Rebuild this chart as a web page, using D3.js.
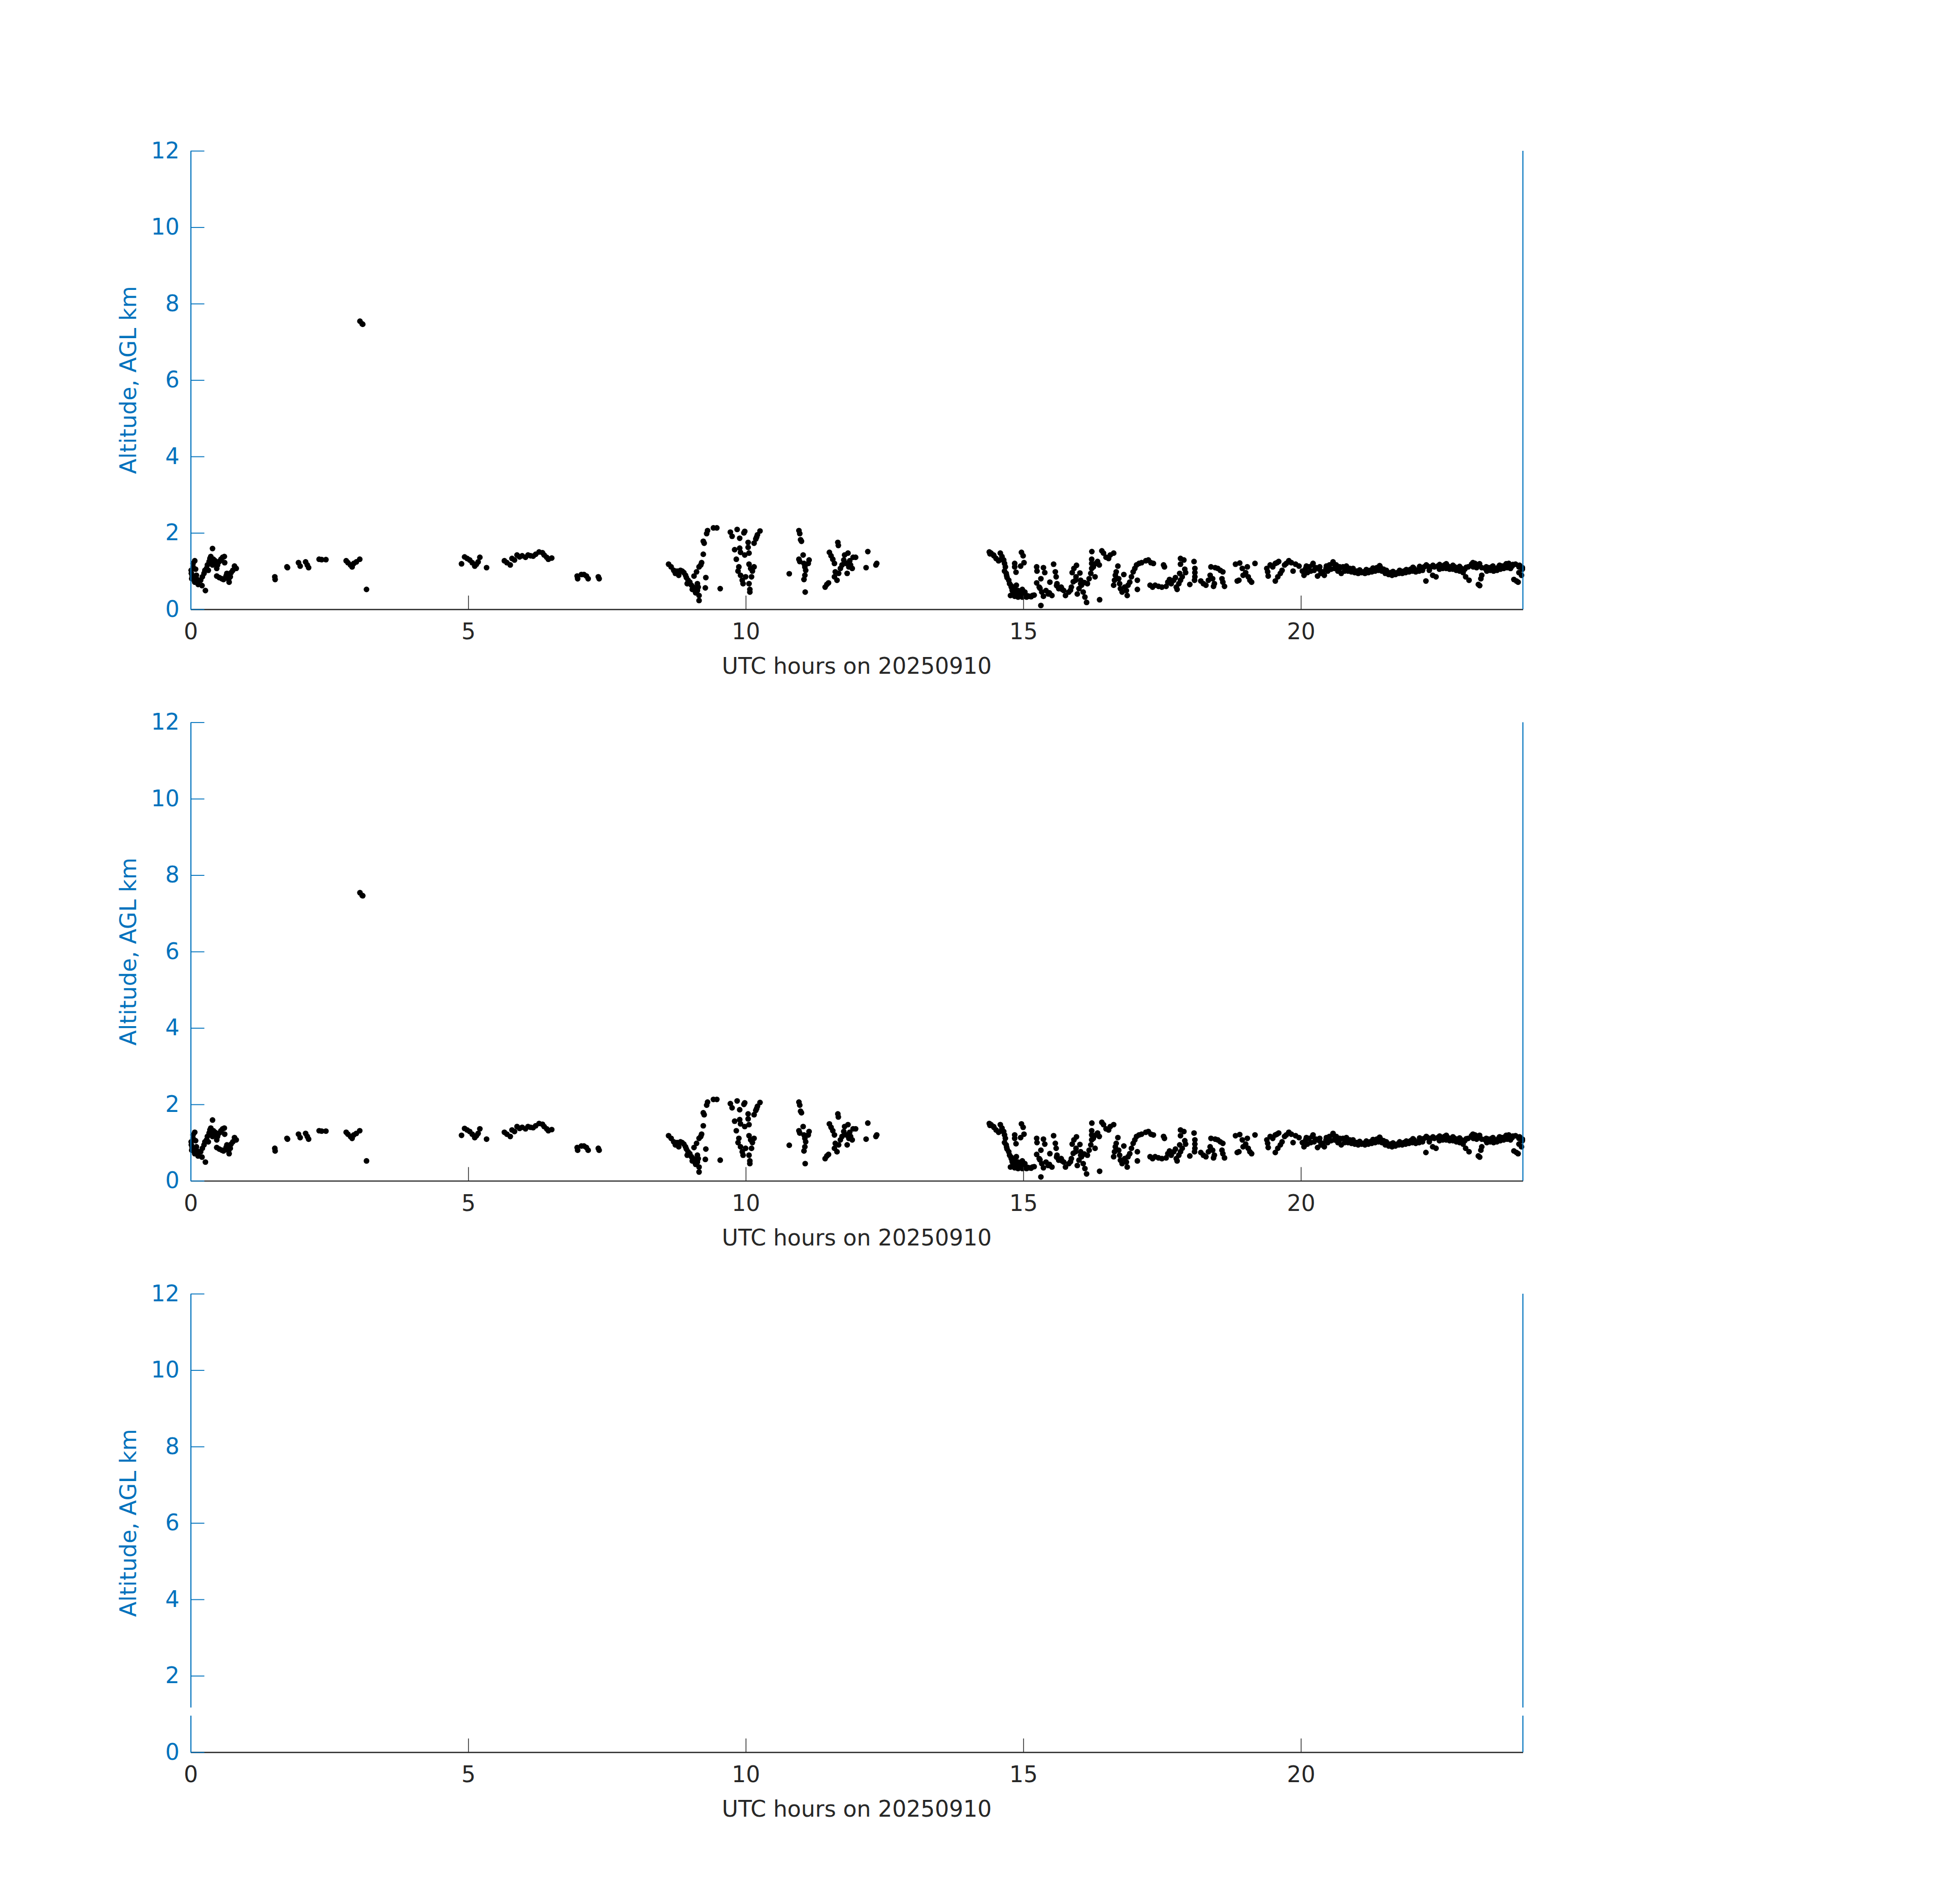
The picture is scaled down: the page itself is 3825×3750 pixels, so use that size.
<!DOCTYPE html>
<html><head><meta charset="utf-8">
<script src="https://cdn.jsdelivr.net/npm/d3@7"></script>
<style>body{margin:0;background:#fff}</style></head>
<body>
<svg id="chart" width="3825" height="3750"></svg>
<script>
const xTicks = [0, 5, 10, 15, 20];
const yTicks = [0, 2, 4, 6, 8, 10, 12];
const xLabelText = "UTC hours on 20250910";
const yLabelText = "Altitude, AGL km";

const utcHours = [
 0.043,0.074,0.043,0.089,0.028,0.058,0.104,0.119,0.074,0.135,0.205,0.266,0.180,0.211,0.241,0.257,0.287,0.318,0.302,0.333,
 0.348,0.363,0.394,0.379,0.409,0.440,0.424,0.394,0.470,0.485,0.516,0.546,0.577,0.607,0.613,0.470,0.516,0.562,0.592,0.653,
 0.638,0.683,0.693,0.714,0.729,0.760,0.790,0.821,0.013,0.010,0.020,
 1.516,1.522,1.735,1.745,1.943,1.973,2.071,2.101,2.125,2.315,2.360,2.437,2.802,2.833,2.879,2.909,2.939,2.985,3.046,3.168,
 3.05,3.09,3.10,
 4.880,4.935,4.981,5.027,5.072,5.118,5.149,5.179,5.210,5.331,5.652,5.697,5.758,5.789,5.834,5.880,5.926,5.972,6.033,6.078,
 6.124,6.170,6.216,6.277,6.338,6.368,6.414,6.444,6.505,6.963,6.972,7.039,7.085,7.130,7.161,7.344,7.359,
 8.610,8.656,8.702,8.732,8.763,8.793,8.824,8.854,8.885,8.915,8.931,8.961,8.946,8.992,9.022,9.037,9.053,9.083,9.098,9.129,
 9.159,9.159,9.144,9.129,9.068,9.114,9.159,9.190,9.205,9.235,9.251,9.235,9.296,9.312,9.418,9.479,9.281,9.272,9.540,
 9.723,9.754,9.845,9.891,9.967,9.982,9.800,9.891,9.906,9.830,9.876,9.861,9.906,9.937,9.952,9.982,10.043,10.043,10.059,10.059,
 10.089,10.120,10.150,10.104,10.059,10.074,10.074,9.998,10.150,10.181,10.211,10.257,10.196,
 10.784,10.958,10.973,10.988,11.004,11.034,10.958,10.973,11.049,11.065,11.080,11.141,11.126,11.065,11.049,11.071,
 11.430,11.461,11.491,11.507,11.537,11.568,11.598,11.613,11.598,11.644,11.659,11.668,11.674,11.705,11.735,11.766,11.781,11.812,11.827,11.842,
 11.873,11.888,11.918,11.934,11.857,11.979,12.199,12.168,12.345,12.360,
 14.388,14.418,14.464,14.510,14.555,14.586,14.616,14.647,14.662,14.677,14.662,14.692,14.708,14.738,14.753,14.784,14.769,14.814,14.845,14.875,
 14.906,14.952,14.982,15.028,15.058,15.104,15.165,15.196,14.982,14.906,14.845,14.967,14.997,15.013,14.952,14.845,14.845,14.869,15.241,15.247,
 15.363,15.387,15.317,15.241,15.287,15.333,15.363,15.409,15.470,15.516,15.479,15.317,15.546,15.577,15.592,15.607,15.638,15.683,15.729,15.760,
 15.820,15.866,15.881,15.912,15.958,15.942,15.973,16.003,16.034,
 14.40,14.47,14.60,14.70,14.78,14.80,14.88,14.93,15.00,15.08,15.14,15.30,15.45,15.60,15.70,15.85,15.90,15.95,16.02,16.10,
 16.033,16.049,16.079,16.110,16.140,16.155,16.186,16.216,16.232,16.232,16.232,16.235,16.262,16.293,16.308,16.338,16.369,16.415,16.445,16.491,
 16.537,16.567,16.628,16.375,
 16.628,16.643,16.658,16.674,16.704,16.719,16.735,16.750,16.780,16.811,16.826,16.857,16.872,16.887,16.918,16.948,16.979,17.009,17.040,17.055,
 17.055,17.085,17.131,
 17.207,17.253,17.299,17.344,17.284,17.329,17.375,17.436,17.497,17.527,17.543,
 17.573,17.604,17.634,17.665,17.710,17.741,17.756,17.771,17.802,17.817,17.832,17.863,17.832,17.832,17.893,17.909,17.924,18.000,18.076,18.091,
 18.091,18.091,18.085,
 18.198,18.244,18.290,18.335,18.366,18.381,18.411,18.442,18.427,18.457,18.503,18.549,18.595,18.579,18.595,18.625,
 18.823,18.899,18.854,18.884,18.945,18.960,19.006,19.036,19.052,19.082,19.113,19.174,
 19.387,19.402,19.412,19.448,19.494,19.540,19.570,19.601,19.540,19.585,19.631,19.662,19.707,19.738,19.783,19.829,19.860,19.905,19.967,
 20.027,20.088,20.149,20.210,20.271,20.332,20.393,20.454,20.515,20.576,20.637,20.698,20.759,20.820,20.881,20.942,21.003,21.064,21.125,21.186,
 21.247,21.308,21.368,21.429,21.490,21.551,21.612,21.673,21.734,21.795,21.856,21.917,21.978,22.039,22.100,22.161,22.222,22.283,22.344,22.405,
 22.466,22.527,22.588,22.649,22.710,22.771,22.832,22.893,22.954,23.015,23.076,23.137,23.198,23.259,23.320,23.381,23.441,23.502,23.563,23.624,
 23.685,23.746,23.807,23.868,23.929,23.990,
 20.057,20.118,20.179,20.240,20.301,20.362,20.423,20.484,20.545,20.606,20.667,20.728,20.789,20.850,20.911,20.972,21.033,21.094,21.155,21.216,
 21.277,21.338,21.399,21.460,21.521,21.582,21.643,21.704,21.765,21.826,21.887,21.948,22.009,22.070,22.131,22.192,22.253,22.314,22.375,22.435,
 22.496,22.557,22.618,22.680,22.740,22.801,22.862,22.923,22.969,23.030,23.106,23.167,23.198,23.222,23.243,23.259,23.350,23.411,23.472,23.533,
 23.594,23.655,23.716,23.777,23.838,23.884,23.914,23.929,23.975,23.990,
 20.10,20.22,20.34,20.46,20.58,20.70,20.82,20.94,21.06,21.18,21.30,21.42,21.54,21.66,21.78,21.90,22.02,22.14,22.26,22.38,
 22.50,22.62,22.74,22.86,22.98,23.10,23.22,23.34,23.46,23.58,23.70,23.82,23.94
];

const altitudeKm = [
 1.20,1.27,1.11,1.05,0.87,0.85,0.89,0.78,0.71,0.65,0.62,0.49,0.76,0.85,0.94,1.02,1.07,1.02,1.16,1.25,
 1.33,1.38,1.59,1.29,1.31,1.27,1.20,1.16,1.07,1.16,1.25,1.31,1.36,1.38,1.22,0.87,0.83,0.80,0.78,0.94,
 0.87,0.78,0.71,0.85,0.96,1.02,1.13,1.07,0.94,1.02,0.80,
 0.85,0.78,1.11,1.09,1.22,1.13,1.24,1.16,1.09,1.31,1.30,1.30,1.27,1.22,1.16,1.11,1.20,1.24,1.31,0.52,
 7.54,7.47,7.46,
 1.19,1.37,1.33,1.29,1.22,1.13,1.18,1.24,1.36,1.09,1.27,1.22,1.16,1.33,1.29,1.42,1.37,1.40,1.36,1.42,
 1.40,1.39,1.44,1.50,1.48,1.42,1.36,1.31,1.34,0.87,0.80,0.91,0.91,0.87,0.80,0.85,0.80,
 1.18,1.11,1.02,0.94,1.00,0.89,1.02,1.00,0.96,0.89,0.83,0.76,0.67,0.71,0.63,0.52,0.58,0.49,0.43,0.49,
 0.36,0.23,0.58,0.67,0.87,0.98,1.11,1.16,1.22,1.44,1.73,1.78,1.98,2.06,2.13,2.13,0.83,0.56,0.54,
 2.02,1.91,2.09,1.86,2.00,2.04,1.56,1.60,1.49,1.31,1.11,1.00,0.89,0.76,0.67,1.42,1.75,1.62,1.47,1.18,
 1.07,1.00,1.11,0.85,0.67,0.52,0.45,0.85,1.73,1.84,1.95,2.05,1.89,
 0.93,2.06,1.98,1.82,1.78,1.42,1.31,1.25,1.20,1.11,1.02,1.29,1.20,0.89,0.78,0.45,
 0.58,0.65,0.69,1.49,1.40,1.31,1.20,0.98,0.85,0.76,1.75,1.67,0.94,1.07,1.16,1.29,1.42,1.20,0.94,1.47,
 1.27,1.16,1.07,1.36,1.11,1.36,1.51,1.09,1.16,1.20,
 1.50,1.47,1.42,1.33,1.27,1.47,1.38,1.29,1.20,1.11,1.00,0.94,0.83,0.76,0.67,0.58,0.36,0.45,0.54,0.63,
 0.49,0.45,0.52,0.45,0.32,0.34,0.36,0.37,0.32,0.32,0.34,1.49,1.40,1.22,1.13,1.20,1.11,0.97,1.11,1.00,
 1.09,0.96,0.80,0.69,0.58,0.45,0.34,0.49,0.43,0.36,0.71,0.10,1.18,0.98,0.85,0.67,0.54,0.58,0.49,0.36,
 0.45,0.58,0.96,1.07,1.15,0.76,0.40,0.54,0.67,
 1.45,1.40,1.30,0.88,0.62,0.50,0.40,0.38,0.40,0.35,0.33,0.55,0.40,0.62,0.52,0.50,0.72,0.85,0.95,0.70,
 0.76,0.63,0.45,0.32,0.18,0.67,0.80,0.94,1.07,1.20,1.31,1.51,1.11,0.85,1.20,1.25,1.16,1.53,1.47,1.36,
 1.33,1.42,1.47,0.25,
 0.63,0.76,0.89,0.98,1.13,0.80,0.67,0.54,0.45,0.91,0.58,0.49,0.36,0.63,0.71,0.85,0.98,1.07,1.16,0.76,
 0.52,1.20,1.22,
 1.27,1.29,1.22,1.20,0.63,0.58,0.63,0.60,0.58,1.16,1.11,
 0.60,0.71,0.78,0.67,0.76,0.83,0.58,0.52,0.67,0.94,0.76,0.85,1.33,1.18,1.29,1.05,0.96,0.65,1.25,1.07,
 0.96,0.85,0.76,
 0.74,0.67,0.63,0.76,0.89,1.11,0.80,0.67,0.60,1.09,1.07,1.02,0.98,0.80,0.71,0.60,
 1.18,1.21,0.74,0.76,1.07,0.89,0.96,1.11,0.85,0.76,0.71,1.20,
 1.07,0.98,0.87,1.16,1.11,1.20,1.22,1.25,0.74,0.85,0.94,1.02,1.16,1.20,1.27,1.22,1.00,1.18,1.13,
 1.00,1.07,1.11,1.16,1.09,1.05,0.98,1.07,1.16,1.20,1.16,1.07,1.11,1.09,1.07,1.02,1.00,0.98,0.98,1.00,
 1.02,1.05,1.09,1.11,1.05,0.98,0.96,0.94,0.96,0.98,1.00,1.00,1.05,1.07,1.02,1.09,1.11,1.13,1.11,1.11,
 1.13,1.13,1.16,1.13,1.11,1.11,1.09,1.07,1.05,1.11,1.18,1.20,1.16,1.09,1.07,1.09,1.11,1.07,1.11,1.13,
 1.16,1.20,1.13,1.18,1.11,1.09,
 0.89,0.96,1.00,1.02,0.87,0.94,0.89,1.00,1.05,1.07,1.00,0.94,1.00,1.00,0.98,0.96,0.94,0.96,0.94,0.96,
 0.98,1.00,1.02,1.00,0.94,0.91,0.89,0.91,0.94,0.94,0.96,0.98,1.00,0.98,1.00,1.02,0.74,1.02,0.89,0.85,
 1.05,1.07,1.07,1.05,1.05,1.02,1.00,0.96,0.85,0.76,1.11,1.09,0.65,0.62,0.80,0.89,1.00,1.02,1.00,1.02,
 1.05,1.07,1.09,1.07,0.78,0.74,0.71,0.96,0.89,1.05,
 1.13,1.20,1.11,1.13,1.24,1.11,1.13,1.07,1.03,1.04,1.08,1.14,1.02,0.99,1.02,1.04,1.10,1.12,1.16,1.15,
 1.17,1.19,1.15,1.12,1.10,1.22,1.19,1.11,1.13,1.15,1.19,1.17,1.15
];

const BLUE = "#0072BD", DARK = "#262626";
const FONT = "DejaVu Sans, Liberation Sans, sans-serif";
const svg = d3.select("#chart");
svg.append("rect").attr("width", 3825).attr("height", 3750).attr("fill", "#fff");

const left = 375.5, right = 2999.5, plotH = 903;
const panelTops = [297, 1422.6, 2548];
const panelHasData = [true, true, false];

const x = d3.scaleLinear().domain([0, 24]).range([left, right]);
const points = utcHours.map((h, i) => ({h, a: altitudeKm[i]}));

panelTops.forEach((top, p) => {
  const bottom = top + plotH;
  const y = d3.scaleLinear().domain([0, 12]).range([bottom, top]);
  const g = svg.append("g");

  if (panelHasData[p]) {
    g.append("g").selectAll("circle").data(points).join("circle")
      .attr("cx", d => x(d.h)).attr("cy", d => y(d.a)).attr("r", 5.6).attr("fill", "#000");
  }

  const xa = g.append("g").attr("transform", `translate(0,${bottom})`)
    .call(d3.axisBottom(x).tickValues(xTicks).tickFormat(d3.format("d"))
      .tickSizeInner(-27).tickSizeOuter(0).tickPadding(28));
  xa.select(".domain").attr("stroke", DARK).attr("stroke-width", 2.4);
  xa.selectAll(".tick line").attr("stroke", DARK).attr("stroke-width", 1.5);
  xa.selectAll("text").attr("fill", DARK).attr("font-size", 44).attr("font-family", FONT);

  g.append("line").attr("x1", right).attr("x2", right).attr("y1", top).attr("y2", bottom)
    .attr("stroke", BLUE).attr("stroke-width", 2.2);

  const ya = g.append("g").attr("transform", `translate(${left},0)`)
    .call(d3.axisLeft(y).tickValues(yTicks).tickFormat(d3.format("d"))
      .tickSizeInner(-27).tickSizeOuter(0).tickPadding(22));
  ya.select(".domain").attr("stroke", BLUE).attr("stroke-width", 2.2);
  ya.selectAll(".tick line").attr("stroke", BLUE).attr("stroke-width", 1.8);
  ya.selectAll("text").attr("fill", BLUE).attr("font-size", 44).attr("font-family", FONT);

  g.append("text").attr("x", (left + right) / 2).attr("y", bottom + 127)
    .attr("text-anchor", "middle").attr("font-size", 44).attr("font-family", FONT)
    .attr("fill", DARK).text(xLabelText);
  g.append("text").attr("transform", `translate(268,${(top + bottom) / 2}) rotate(-90)`)
    .attr("text-anchor", "middle").attr("font-size", 44).attr("font-family", FONT)
    .attr("fill", BLUE).text(yLabelText);

  if (!panelHasData[p]) {
    g.append("rect").attr("x", left - 4).attr("y", 3363).attr("width", 8).attr("height", 16).attr("fill", "#fff");
    g.append("rect").attr("x", right - 4).attr("y", 3363).attr("width", 8).attr("height", 16).attr("fill", "#fff");
  }
});
</script>
</body></html>
